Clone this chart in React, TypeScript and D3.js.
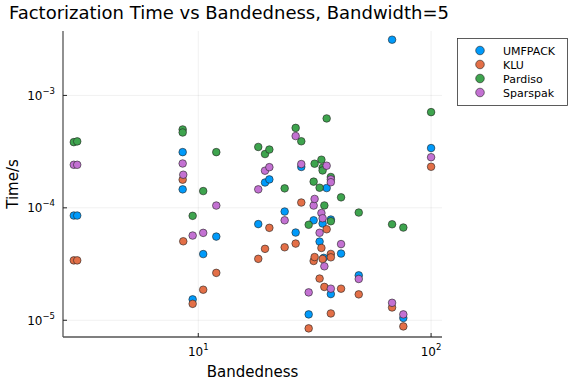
import React, { useEffect, useRef } from 'react';
import * as d3 from 'd3';

// bandedness (x) and factorization time in seconds (y)
const umfpackBand = [2.92, 3.02, 8.57, 8.57, 9.46, 10.5, 11.95, 18.1, 19.35, 20.2, 23.5, 26.2, 27.7, 29.8, 31.3, 33.2, 34.2, 34.6, 35.6, 37.1, 37.1, 41.05, 48.9, 68.0, 76.0, 100];
const umfpackTime = [8.54e-5, 8.54e-5, 3.13e-4, 1.46e-4, 1.535e-5, 3.88e-5, 5.55e-5, 7.17e-5, 1.68e-4, 1.79e-4, 9.27e-5, 6.03e-5, 2.31e-4, 1.128e-5, 7.75e-5, 5.01e-5, 7.25e-5, 3.59e-5, 1.5e-4, 7.87e-5, 1.71e-5, 3.92e-5, 2.51e-5, 3.13e-3, 1.048e-5, 3.4e-4];

const kluBand = [2.92, 3.02, 8.57, 8.62, 9.46, 10.5, 11.95, 18.1, 19.35, 20.2, 23.5, 26.2, 27.7, 29.8, 31.3, 31.6, 33.2, 33.8, 34.2, 34.8, 35.6, 37.1, 37.1, 37.1, 41.05, 48.9, 68.0, 76.0, 100];
const kluTime = [3.41e-5, 3.41e-5, 1.78e-4, 5.04e-5, 1.4e-5, 1.87e-5, 2.64e-5, 3.52e-5, 4.32e-5, 6.64e-5, 4.46e-5, 4.81e-5, 1.115e-4, 8.47e-6, 3.37e-5, 3.65e-5, 2.35e-5, 4.4e-5, 3.51e-5, 1.98e-5, 6.45e-5, 3.89e-5, 3.63e-5, 1.15e-5, 1.91e-5, 1.7e-5, 1.3e-5, 8.82e-6, 2.32e-4];

const pardisoBand = [2.92, 3.02, 8.57, 8.57, 9.46, 10.5, 11.95, 18.1, 19.35, 20.2, 23.5, 26.2, 27.7, 29.8, 31.3, 31.6, 33.2, 33.8, 34.2, 34.2, 34.8, 35.6, 37.1, 37.1, 41.05, 48.9, 68.0, 76.0, 100];
const pardisoTime = [3.84e-4, 3.9e-4, 4.98e-4, 4.68e-4, 8.49e-5, 1.41e-4, 3.13e-4, 3.48e-4, 3.01e-4, 3.3e-4, 1.49e-4, 5.14e-4, 3.91e-4, 7.07e-5, 1.71e-4, 2.47e-4, 1.51e-4, 2.68e-4, 2.275e-4, 2.15e-4, 1.05e-4, 6.24e-4, 1.88e-4, 7.6e-5, 1.24e-4, 9.08e-5, 7.14e-5, 6.68e-5, 7.1e-4];

const sparspakBand = [2.92, 3.02, 8.57, 8.62, 9.46, 10.5, 11.95, 18.1, 19.35, 20.2, 23.5, 26.2, 27.7, 29.8, 31.3, 31.6, 33.2, 33.8, 34.2, 34.8, 35.6, 37.1, 37.1, 37.1, 41.05, 48.9, 68.0, 76.0, 100];
const sparspakTime = [2.415e-4, 2.415e-4, 2.48e-4, 1.97e-4, 5.67e-5, 5.99e-5, 1.048e-4, 1.46e-4, 2.14e-4, 2.3e-4, 7.75e-5, 4.35e-4, 2.45e-4, 1.77e-5, 1.048e-4, 1.2e-4, 6.0e-5, 8.99e-5, 8.08e-5, 3.02e-5, 2.37e-4, 1.79e-4, 1.69e-4, 1.91e-5, 4.76e-5, 2.33e-5, 1.43e-5, 1.128e-5, 2.82e-4];

const seriesNames = ['UMFPACK', 'KLU', 'Pardiso', 'Sparspak'];
const seriesColors = ['#009AFA', '#E36F47', '#3EA44E', '#C371D2'];

const xTicks = [10, 100];
const xTickExps = ['1', '2'];
const yTicks = [1e-5, 1e-4, 1e-3];
const yTickExps = ['\u22125', '\u22124', '\u22123'];

const FONT = 'DejaVu Sans, sans-serif';

export default function App() {
  const ref = useRef<SVGSVGElement>(null);

  useEffect(() => {
    const svg = d3.select(ref.current);
    svg.selectAll('*').remove();

    const left = 63, right = 442, top = 31, bottom = 337;

    const x = d3.scaleLog().domain([2.624, 111.4]).range([left, right]);
    const y = d3.scaleLog().domain([7.1e-6, 3.74e-3]).range([bottom, top]);

    svg.append('rect').attr('width', 576).attr('height', 384).attr('fill', 'white');

    // grid
    const grid = svg.append('g').attr('stroke', '#000').attr('stroke-opacity', 0.1).attr('stroke-width', 0.6);
    xTicks.forEach((t) => {
      grid.append('line').attr('x1', x(t)).attr('x2', x(t)).attr('y1', top).attr('y2', bottom);
    });
    yTicks.forEach((t) => {
      grid.append('line').attr('x1', left).attr('x2', right).attr('y1', y(t)).attr('y2', y(t));
    });

    // axes
    const axis = svg.append('g').attr('stroke', '#555').attr('stroke-width', 1.3);
    axis.append('line').attr('x1', left).attr('x2', left).attr('y1', top).attr('y2', bottom);
    axis.append('line').attr('x1', left).attr('x2', right).attr('y1', bottom).attr('y2', bottom);
    xTicks.forEach((t) => {
      axis.append('line').attr('x1', x(t)).attr('x2', x(t)).attr('y1', bottom).attr('y2', bottom - 4).attr('stroke', '#222').attr('stroke-width', 1);
    });
    yTicks.forEach((t) => {
      axis.append('line').attr('x1', left).attr('x2', left + 4).attr('y1', y(t)).attr('y2', y(t)).attr('stroke', '#222').attr('stroke-width', 1);
    });

    // tick labels
    xTicks.forEach((t, i) => {
      const txt = svg.append('text')
        .attr('x', x(t))
        .attr('y', 356)
        .attr('text-anchor', 'middle')
        .attr('font-family', FONT)
        .attr('font-size', 12)
        .attr('fill', '#000');
      txt.append('tspan').text('10');
      txt.append('tspan').attr('font-size', 8.5).attr('dy', -6).text(xTickExps[i]);
    });
    yTicks.forEach((t, i) => {
      const txt = svg.append('text')
        .attr('x', 55)
        .attr('y', y(t) + 4.5)
        .attr('text-anchor', 'end')
        .attr('font-family', FONT)
        .attr('font-size', 12)
        .attr('fill', '#000');
      txt.append('tspan').text('10');
      txt.append('tspan').attr('font-size', 8.5).attr('dy', -6).text(yTickExps[i]);
    });

    // labels
    svg.append('text')
      .attr('x', 229).attr('y', 19)
      .attr('text-anchor', 'middle')
      .attr('font-family', FONT).attr('font-size', 18)
      .text('Factorization Time vs Bandedness, Bandwidth=5');
    svg.append('text')
      .attr('x', (left + right) / 2).attr('y', 377)
      .attr('text-anchor', 'middle')
      .attr('font-family', FONT).attr('font-size', 15)
      .text('Bandedness');
    svg.append('text')
      .attr('transform', `translate(18, ${(top + bottom) / 2}) rotate(-90)`)
      .attr('text-anchor', 'middle')
      .attr('font-family', FONT).attr('font-size', 15)
      .text('Time/s');

    // points
    const series = [
      { band: umfpackBand, time: umfpackTime },
      { band: kluBand, time: kluTime },
      { band: pardisoBand, time: pardisoTime },
      { band: sparspakBand, time: sparspakTime },
    ];
    series.forEach((s, si) => {
      svg.append('g')
        .selectAll('circle')
        .data(s.band.map((b, i) => [b, s.time[i]]))
        .enter()
        .append('circle')
          .attr('cx', (d) => x(d[0]))
          .attr('cy', (d) => y(d[1]))
          .attr('r', 3.8)
          .attr('fill', seriesColors[si])
          .attr('stroke', '#222')
          .attr('stroke-width', 0.6);
    });

    // legend
    const legend = svg.append('g');
    legend.append('rect')
      .attr('x', 457.5).attr('y', 38.5).attr('width', 110).attr('height', 67)
      .attr('fill', 'white').attr('stroke', '#333').attr('stroke-width', 0.8);
    seriesNames.forEach((name, i) => {
      const ly = 50.5 + i * 14;
      legend.append('circle')
        .attr('cx', 480).attr('cy', ly).attr('r', 4.3)
        .attr('fill', seriesColors[i]).attr('stroke', '#222').attr('stroke-width', 0.6);
      legend.append('text')
        .attr('x', 503).attr('y', ly + 4)
        .attr('font-family', FONT).attr('font-size', 11)
        .text(name);
    });
  }, []);

  return (
    <svg
      ref={ref}
      width={576}
      height={384}
      style={{ position: 'absolute', left: 0, top: 0, display: 'block' }}
    />
  );
}
